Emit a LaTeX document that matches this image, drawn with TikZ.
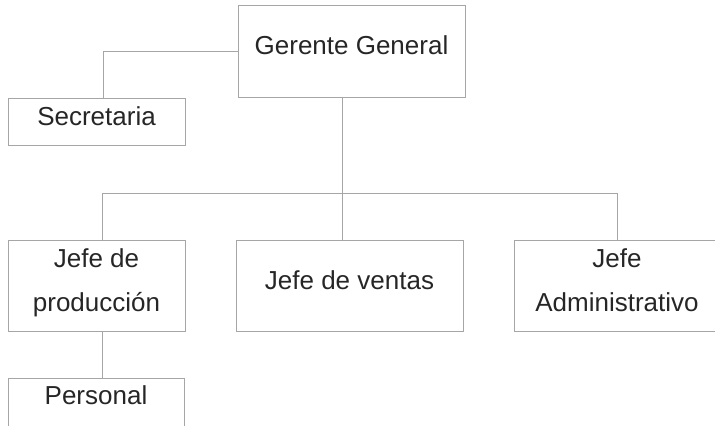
\documentclass[tikz,border=0pt]{standalone}
\usepackage{fontspec}
\setmainfont{Liberation Sans}
\newdimen\pxu \pxu=0.5pt

\begin{document}
\begin{tikzpicture}[x=0.5pt, y=-0.5pt,
    box/.style={draw=black!35, line width=0.5pt, rectangle, inner sep=0pt,
      font=\fontsize{13}{22}\selectfont, text=black!85, align=center},
    single/.style={text height=9.75pt, text depth=5.85pt},
    double/.style={text depth=5.5pt},
    link/.style={draw=black!35, line width=0.5pt},
  ]
  \useasboundingbox (0,0) rectangle (715,425);
  \clip (0,0) rectangle (715,425);

  % boxes
  \node[box, single, minimum width=227\pxu, minimum height=92\pxu] (ger) at (351.5,51) {Gerente General};
  \node[box, single, minimum width=177\pxu, minimum height=47\pxu] (sec) at (96.5,121.5) {Secretaria};
  \node[box, double, minimum width=177\pxu, minimum height=91\pxu] (prod) at (96.5,285.5) {Jefe de\\producción};
  \node[box, single, minimum width=227\pxu, minimum height=91\pxu] (ven) at (349.5,285.5) {Jefe de ventas};
  \node[box, double, minimum width=206\pxu, minimum height=91\pxu] (adm) at (617,285.5) {Jefe\\Administrativo};
  \node[box, single, text depth=7.85pt, minimum width=176\pxu, minimum height=50\pxu] (per) at (96,403) {Personal};

  % connectors
  \coordinate (bus) at (342,193);
  \coordinate (busL) at (102,193);
  \coordinate (busR) at (617,193);
  \draw[link] (ger.west) -| ([xshift=3.5pt]sec.north);
  \draw[link] (ger.south -| bus) -- (bus |- ven.north);
  \draw[link] (busL |- prod.north) -- (busL) -- (busR) -- (busR |- adm.north);
  \draw[link] (busL |- prod.south) -- (busL |- per.north);
\end{tikzpicture}
\end{document}
